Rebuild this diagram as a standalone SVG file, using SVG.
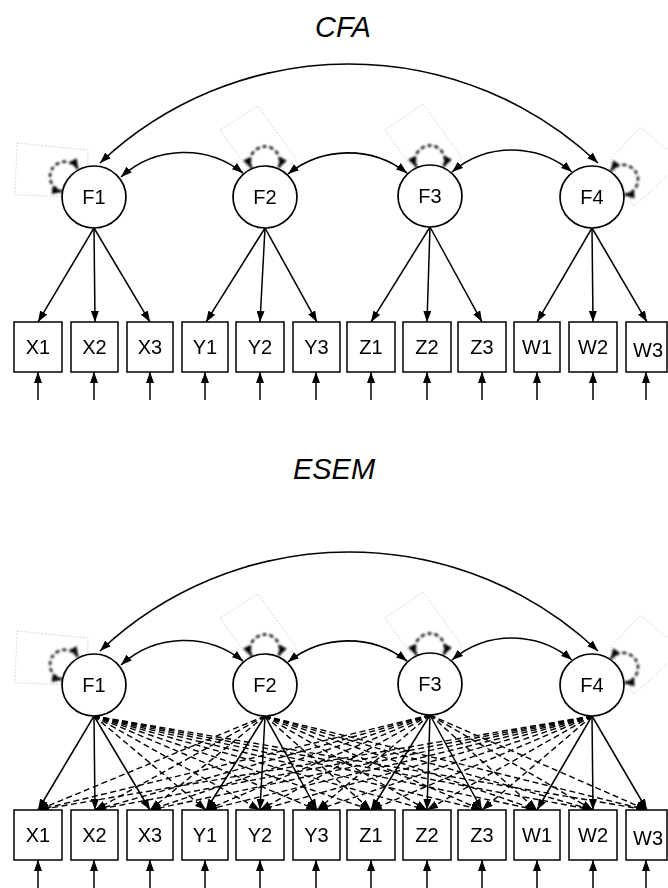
<svg xmlns="http://www.w3.org/2000/svg" width="668" height="888" viewBox="0 0 668 888">
<style>
.bg{fill:#fff}
.lat{fill:#fff;stroke:#000;stroke-width:1.7}
.obs{fill:#fff;stroke:#000;stroke-width:1.5}
.lbl{font-family:"Liberation Sans",Arial,sans-serif;font-size:20px;fill:#000;text-anchor:middle}
.ttl{font-family:"Liberation Sans",Arial,sans-serif;font-size:29px;font-style:italic;fill:#000;text-anchor:middle}
.ln{fill:none;stroke:#000;stroke-width:1.5;marker-end:url(#ah)}
.dl{fill:none;stroke:#000;stroke-width:1.4;stroke-dasharray:6 3.5;marker-end:url(#ah)}
.cv{fill:none;stroke:#000;stroke-width:1.6;marker-start:url(#ah);marker-end:url(#ah)}
.lp{fill:none;stroke:#000;stroke-width:2.4;stroke-dasharray:4 3;marker-start:url(#ah);marker-end:url(#ah)}
.fr{fill:none;stroke:#c8c8c8;stroke-width:0.7;stroke-dasharray:2 1.5}
</style>
<defs>
<marker id="ah" markerUnits="userSpaceOnUse" markerWidth="11" markerHeight="8" refX="11" refY="4" orient="auto-start-reverse" viewBox="0 0 11 8">
<path d="M0,0 L11,4 L0,8 z" fill="#000" stroke="none"/>
</marker>
<filter id="bl" x="-50%" y="-50%" width="200%" height="200%"><feGaussianBlur stdDeviation="1"/></filter>
</defs>
<rect class="bg" x="0" y="0" width="668" height="888"/>

<text class="ttl" x="343" y="37">CFA</text>
<text class="ttl" x="334" y="479">ESEM</text>

<g id="variances">
<polygon class="fr" points="17,143 88,150 87,197 15,195"/>
<polygon class="fr" points="220,130 258,106 297,160 259,184"/>
<polygon class="fr" points="385,130 423,104 462,158 424,184"/>
<polygon class="fr" points="610,160 640,127 682,162 634,206"/>
<polygon class="fr" points="17,631 88,638 87,685 15,683"/>
<polygon class="fr" points="220,618 258,594 297,648 259,672"/>
<polygon class="fr" points="385,618 423,592 462,646 424,672"/>
<polygon class="fr" points="610,648 640,615 682,650 634,694"/>
<g filter="url(#bl)">
<path class="lp" transform="translate(94,197) rotate(-55)" d="M-13.3,-28.5 A15,15 0 1 1 13.3,-28.5"/>
<path class="lp" transform="translate(265,197)" d="M-13.3,-28.5 A15,15 0 1 1 13.3,-28.5"/>
<path class="lp" transform="translate(430,196)" d="M-13.3,-28.5 A15,15 0 1 1 13.3,-28.5"/>
<path class="lp" transform="translate(592,197) rotate(61)" d="M-13.3,-28.5 A15,15 0 1 1 13.3,-28.5"/>
<path class="lp" transform="translate(94,685) rotate(-55)" d="M-13.3,-28.5 A15,15 0 1 1 13.3,-28.5"/>
<path class="lp" transform="translate(265,685)" d="M-13.3,-28.5 A15,15 0 1 1 13.3,-28.5"/>
<path class="lp" transform="translate(430,684)" d="M-13.3,-28.5 A15,15 0 1 1 13.3,-28.5"/>
<path class="lp" transform="translate(592,685) rotate(61)" d="M-13.3,-28.5 A15,15 0 1 1 13.3,-28.5"/>
</g>
</g>

<g id="connectors">
<path class="cv" d="M100,163 A362.6,362.6 0 0 1 598,163"/>
<path class="cv" d="M121,177 A94,94 0 0 1 243,173"/>
<path class="cv" d="M288,174 A96,96 0 0 1 407,173"/>
<path class="cv" d="M452,172 A93,93 0 0 1 572,172"/>
<line class="ln" x1="94" y1="228" x2="38" y2="322"/>
<line class="ln" x1="94" y1="228" x2="95" y2="322"/>
<line class="ln" x1="94" y1="228" x2="150" y2="322"/>
<line class="ln" x1="265" y1="228" x2="206" y2="322"/>
<line class="ln" x1="265" y1="228" x2="260" y2="322"/>
<line class="ln" x1="265" y1="228" x2="317" y2="322"/>
<line class="ln" x1="430" y1="227" x2="371" y2="322"/>
<line class="ln" x1="430" y1="227" x2="427" y2="322"/>
<line class="ln" x1="430" y1="227" x2="482" y2="322"/>
<line class="ln" x1="592" y1="228" x2="537" y2="322"/>
<line class="ln" x1="592" y1="228" x2="593" y2="322"/>
<line class="ln" x1="592" y1="228" x2="647" y2="322"/>
<line class="ln" x1="38" y1="400" x2="38" y2="372"/>
<line class="ln" x1="94" y1="400" x2="94" y2="372"/>
<line class="ln" x1="150" y1="400" x2="150" y2="372"/>
<line class="ln" x1="205" y1="400" x2="205" y2="372"/>
<line class="ln" x1="260" y1="400" x2="260" y2="372"/>
<line class="ln" x1="316" y1="400" x2="316" y2="372"/>
<line class="ln" x1="371" y1="400" x2="371" y2="372"/>
<line class="ln" x1="427" y1="400" x2="427" y2="372"/>
<line class="ln" x1="482" y1="400" x2="482" y2="372"/>
<line class="ln" x1="537" y1="400" x2="537" y2="372"/>
<line class="ln" x1="593" y1="400" x2="593" y2="372"/>
<line class="ln" x1="646" y1="400" x2="646" y2="372"/>

<path class="cv" d="M100,651 A362.6,362.6 0 0 1 598,651"/>
<path class="cv" d="M121,665 A94,94 0 0 1 243,661"/>
<path class="cv" d="M288,662 A96,96 0 0 1 407,661"/>
<path class="cv" d="M452,660 A93,93 0 0 1 572,660"/>
<line class="dl" x1="94" y1="716" x2="206" y2="810"/>
<line class="dl" x1="94" y1="716" x2="260" y2="810"/>
<line class="dl" x1="94" y1="716" x2="317" y2="810"/>
<line class="dl" x1="94" y1="716" x2="371" y2="810"/>
<line class="dl" x1="94" y1="716" x2="427" y2="810"/>
<line class="dl" x1="94" y1="716" x2="482" y2="810"/>
<line class="dl" x1="94" y1="716" x2="537" y2="810"/>
<line class="dl" x1="94" y1="716" x2="593" y2="810"/>
<line class="dl" x1="94" y1="716" x2="647" y2="810"/>
<line class="dl" x1="265" y1="716" x2="38" y2="810"/>
<line class="dl" x1="265" y1="716" x2="95" y2="810"/>
<line class="dl" x1="265" y1="716" x2="150" y2="810"/>
<line class="dl" x1="265" y1="716" x2="371" y2="810"/>
<line class="dl" x1="265" y1="716" x2="427" y2="810"/>
<line class="dl" x1="265" y1="716" x2="482" y2="810"/>
<line class="dl" x1="265" y1="716" x2="537" y2="810"/>
<line class="dl" x1="265" y1="716" x2="593" y2="810"/>
<line class="dl" x1="265" y1="716" x2="647" y2="810"/>
<line class="dl" x1="430" y1="715" x2="38" y2="810"/>
<line class="dl" x1="430" y1="715" x2="95" y2="810"/>
<line class="dl" x1="430" y1="715" x2="150" y2="810"/>
<line class="dl" x1="430" y1="715" x2="206" y2="810"/>
<line class="dl" x1="430" y1="715" x2="260" y2="810"/>
<line class="dl" x1="430" y1="715" x2="317" y2="810"/>
<line class="dl" x1="430" y1="715" x2="537" y2="810"/>
<line class="dl" x1="430" y1="715" x2="593" y2="810"/>
<line class="dl" x1="430" y1="715" x2="647" y2="810"/>
<line class="dl" x1="592" y1="716" x2="38" y2="810"/>
<line class="dl" x1="592" y1="716" x2="95" y2="810"/>
<line class="dl" x1="592" y1="716" x2="150" y2="810"/>
<line class="dl" x1="592" y1="716" x2="206" y2="810"/>
<line class="dl" x1="592" y1="716" x2="260" y2="810"/>
<line class="dl" x1="592" y1="716" x2="317" y2="810"/>
<line class="dl" x1="592" y1="716" x2="371" y2="810"/>
<line class="dl" x1="592" y1="716" x2="427" y2="810"/>
<line class="dl" x1="592" y1="716" x2="482" y2="810"/>
<line class="ln" x1="94" y1="716" x2="38" y2="810"/>
<line class="ln" x1="94" y1="716" x2="95" y2="810"/>
<line class="ln" x1="94" y1="716" x2="150" y2="810"/>
<line class="ln" x1="265" y1="716" x2="206" y2="810"/>
<line class="ln" x1="265" y1="716" x2="260" y2="810"/>
<line class="ln" x1="265" y1="716" x2="317" y2="810"/>
<line class="ln" x1="430" y1="715" x2="371" y2="810"/>
<line class="ln" x1="430" y1="715" x2="427" y2="810"/>
<line class="ln" x1="430" y1="715" x2="482" y2="810"/>
<line class="ln" x1="592" y1="716" x2="537" y2="810"/>
<line class="ln" x1="592" y1="716" x2="593" y2="810"/>
<line class="ln" x1="592" y1="716" x2="647" y2="810"/>
<line class="ln" x1="38" y1="888" x2="38" y2="860"/>
<line class="ln" x1="94" y1="888" x2="94" y2="860"/>
<line class="ln" x1="150" y1="888" x2="150" y2="860"/>
<line class="ln" x1="205" y1="888" x2="205" y2="860"/>
<line class="ln" x1="260" y1="888" x2="260" y2="860"/>
<line class="ln" x1="316" y1="888" x2="316" y2="860"/>
<line class="ln" x1="371" y1="888" x2="371" y2="860"/>
<line class="ln" x1="427" y1="888" x2="427" y2="860"/>
<line class="ln" x1="482" y1="888" x2="482" y2="860"/>
<line class="ln" x1="537" y1="888" x2="537" y2="860"/>
<line class="ln" x1="593" y1="888" x2="593" y2="860"/>
<line class="ln" x1="646" y1="888" x2="646" y2="860"/>
</g>

<g id="cfa-F1"><ellipse class="lat" cx="94" cy="197" rx="32" ry="31"/><text class="lbl" x="94" y="204">F1</text></g>
<g id="cfa-F2"><ellipse class="lat" cx="265" cy="197" rx="32" ry="31"/><text class="lbl" x="265" y="204">F2</text></g>
<g id="cfa-F3"><ellipse class="lat" cx="430" cy="196" rx="32" ry="31"/><text class="lbl" x="430" y="203">F3</text></g>
<g id="cfa-F4"><ellipse class="lat" cx="592" cy="197" rx="32" ry="31"/><text class="lbl" x="592" y="204">F4</text></g>
<g id="cfa-X1"><rect class="obs" x="14" y="322" width="48" height="50"/><text class="lbl" x="38" y="354">X1</text></g>
<g id="cfa-X2"><rect class="obs" x="71" y="322" width="47" height="50"/><text class="lbl" x="94.5" y="354">X2</text></g>
<g id="cfa-X3"><rect class="obs" x="127" y="322" width="46" height="50"/><text class="lbl" x="150" y="354">X3</text></g>
<g id="cfa-Y1"><rect class="obs" x="182" y="322" width="46" height="50"/><text class="lbl" x="205" y="354">Y1</text></g>
<g id="cfa-Y2"><rect class="obs" x="236" y="322" width="48" height="50"/><text class="lbl" x="260" y="354">Y2</text></g>
<g id="cfa-Y3"><rect class="obs" x="293" y="322" width="47" height="50"/><text class="lbl" x="316.5" y="354">Y3</text></g>
<g id="cfa-Z1"><rect class="obs" x="347" y="322" width="48" height="50"/><text class="lbl" x="371" y="354">Z1</text></g>
<g id="cfa-Z2"><rect class="obs" x="403" y="322" width="48" height="50"/><text class="lbl" x="427" y="354">Z2</text></g>
<g id="cfa-Z3"><rect class="obs" x="458" y="322" width="48" height="50"/><text class="lbl" x="482" y="354">Z3</text></g>
<g id="cfa-W1"><rect class="obs" x="514" y="322" width="46" height="50"/><text class="lbl" x="537" y="354">W1</text></g>
<g id="cfa-W2"><rect class="obs" x="569" y="322" width="48" height="50"/><text class="lbl" x="593" y="354">W2</text></g>
<g id="cfa-W3"><rect class="obs" x="626" y="322" width="41" height="50"/><text class="lbl" x="648" y="357">W3</text></g>

<g id="esem-F1"><ellipse class="lat" cx="94" cy="685" rx="32" ry="31"/><text class="lbl" x="94" y="692">F1</text></g>
<g id="esem-F2"><ellipse class="lat" cx="265" cy="685" rx="32" ry="31"/><text class="lbl" x="265" y="692">F2</text></g>
<g id="esem-F3"><ellipse class="lat" cx="430" cy="684" rx="32" ry="31"/><text class="lbl" x="430" y="691">F3</text></g>
<g id="esem-F4"><ellipse class="lat" cx="592" cy="685" rx="32" ry="31"/><text class="lbl" x="592" y="692">F4</text></g>
<g id="esem-X1"><rect class="obs" x="14" y="810" width="48" height="50"/><text class="lbl" x="38" y="842">X1</text></g>
<g id="esem-X2"><rect class="obs" x="71" y="810" width="47" height="50"/><text class="lbl" x="94.5" y="842">X2</text></g>
<g id="esem-X3"><rect class="obs" x="127" y="810" width="46" height="50"/><text class="lbl" x="150" y="842">X3</text></g>
<g id="esem-Y1"><rect class="obs" x="182" y="810" width="46" height="50"/><text class="lbl" x="205" y="842">Y1</text></g>
<g id="esem-Y2"><rect class="obs" x="236" y="810" width="48" height="50"/><text class="lbl" x="260" y="842">Y2</text></g>
<g id="esem-Y3"><rect class="obs" x="293" y="810" width="47" height="50"/><text class="lbl" x="316.5" y="842">Y3</text></g>
<g id="esem-Z1"><rect class="obs" x="347" y="810" width="48" height="50"/><text class="lbl" x="371" y="842">Z1</text></g>
<g id="esem-Z2"><rect class="obs" x="403" y="810" width="48" height="50"/><text class="lbl" x="427" y="842">Z2</text></g>
<g id="esem-Z3"><rect class="obs" x="458" y="810" width="48" height="50"/><text class="lbl" x="482" y="842">Z3</text></g>
<g id="esem-W1"><rect class="obs" x="514" y="810" width="46" height="50"/><text class="lbl" x="537" y="842">W1</text></g>
<g id="esem-W2"><rect class="obs" x="569" y="810" width="48" height="50"/><text class="lbl" x="593" y="842">W2</text></g>
<g id="esem-W3"><rect class="obs" x="626" y="810" width="41" height="50"/><text class="lbl" x="648" y="845">W3</text></g>
</svg>
